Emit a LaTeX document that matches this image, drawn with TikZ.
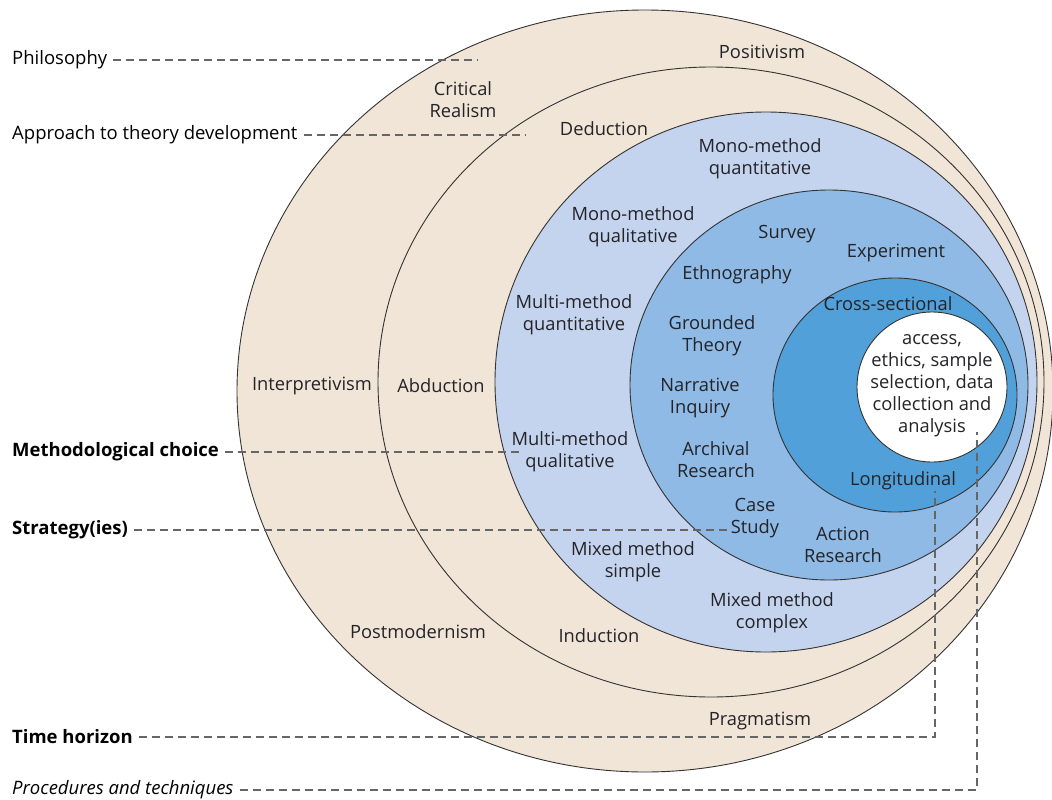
\documentclass[tikz,border=0pt]{standalone}
\usepackage{fontspec}
\setmainfont{Open Sans}
\definecolor{onionTan}{RGB}{241,229,215}
\definecolor{onionPale}{RGB}{197,212,238}
\definecolor{onionMid}{RGB}{143,186,229}
\definecolor{onionDeep}{RGB}{82,160,217}
\definecolor{inkText}{RGB}{35,35,40}
\begin{document}
\begin{tikzpicture}[x=1pt,y=-1pt,
  ring/.style={draw=black!80, line width=0.9pt},
  lbl/.style={font=\fontsize{18.3}{22}\selectfont, text=inkText, align=center, inner sep=0pt, yshift=-1.5pt},
  side/.style={font=\fontsize{18.5}{22}\selectfont, anchor=west, inner sep=0pt, text=black, yshift=-1pt},
  guide/.style={draw=black!60, line width=1.3pt, dash pattern=on 8pt off 5pt}]
\useasboundingbox (0,0) rectangle (1052,800);

% layers of the onion, outside in
\path[ring, fill=onionTan]  (645,391) ellipse [x radius=408, y radius=381];
\path[ring, fill=onionTan]  (711,382) ellipse [x radius=333, y radius=315];
\path[ring, fill=onionPale] (766,382) ellipse [x radius=271, y radius=270];
\path[ring, fill=onionMid]  (829,385) ellipse [x radius=199, y radius=195];
\path[ring, fill=onionDeep] (895,395) ellipse [x radius=122, y radius=117];
\path[ring, fill=white]     (932,387) ellipse [x radius=75,  y radius=75];

% labels inside the layers
\node[lbl] (positivism) at (762,50)  {Positivism};
\node[lbl] (critreal)   at (463,98)  {Critical\\Realism};
\node[lbl] (interp)     at (312,384) {Interpretivism};
\node[lbl] (postmod)    at (418,630) {Postmodernism};
\node[lbl] (pragma)     at (760,719) {Pragmatism};

\node[lbl] (deduction)  at (604,127) {Deduction};
\node[lbl] (abduction)  at (441,384) {Abduction};
\node[lbl] (induction)  at (599,634) {Induction};

\node[lbl] (monoquan)   at (760,157) {Mono-method\\quantitative};
\node[lbl] (monoqual)   at (633,225) {Mono-method\\qualitative};
\node[lbl] (multiquan)  at (574,313) {Multi-method\\quantitative};
\node[lbl] (multiqual)  at (570,450) {Multi-method\\qualitative};
\node[lbl] (mixsimple)  at (633,560) {Mixed method\\simple};
\node[lbl] (mixcomplex) at (772,611) {Mixed method\\complex};

\node[lbl] (survey)     at (787,233) {Survey};
\node[lbl] (experiment) at (896,251) {Experiment};
\node[lbl] (ethno)      at (737,273) {Ethnography};
\node[lbl] (grounded)   at (712,334) {Grounded\\Theory};
\node[lbl] (narrative)  at (700,396) {Narrative\\Inquiry};
\node[lbl] (archival)   at (716,458) {Archival\\Research};
\node[lbl] (casestudy)  at (755,517) {Case\\Study};
\node[lbl] (action)     at (843,543) {Action\\Research};

\node[lbl] (crosssec)   at (888,302) {Cross-sectional};
\node[lbl] (longit)     at (903,479) {Longitudinal};

\node[lbl] (core)       at (932,384) {access,\\ethics, sample\\selection, data\\collection and\\analysis};

% layer names on the left
\node[side] (philosophy) at (12,59)  {Philosophy};
\node[side] (approach)   at (12,134) {Approach to theory development};
\node[side] (method)     at (12,451) {\bfseries Methodological choice};
\node[side] (strategy)   at (12,529) {\bfseries Strategy(ies)};
\node[side] (horizon)    at (12,736) {\bfseries Time horizon};
\node[side] (procedure)  at (12,789) {\itshape Procedures and techniques};

% ends of the guide lines
\coordinate (philEnd)   at (478,60);
\coordinate (apprEnd)   at (525,134);
\coordinate (methEnd)   at (522,451);
\coordinate (stratEnd)  at (727,529);
\coordinate (horizEnd)  at (935,491);
\coordinate (procEnd)   at (977,432);

\draw[guide] ([xshift=6pt]philosophy.east) -- (philosophy.east -| philEnd);
\draw[guide] ([xshift=6pt]approach.east)   -- (approach.east -| apprEnd);
\draw[guide] ([xshift=6pt]method.east)     -- (method.east -| methEnd);
\draw[guide] ([xshift=6pt]strategy.east)   -- (strategy.east -| stratEnd);
\draw[guide] ([xshift=6pt]horizon.east)    -| (horizEnd);
\draw[guide] ([xshift=6pt]procedure.east)  -| (procEnd);
\end{tikzpicture}
\end{document}
